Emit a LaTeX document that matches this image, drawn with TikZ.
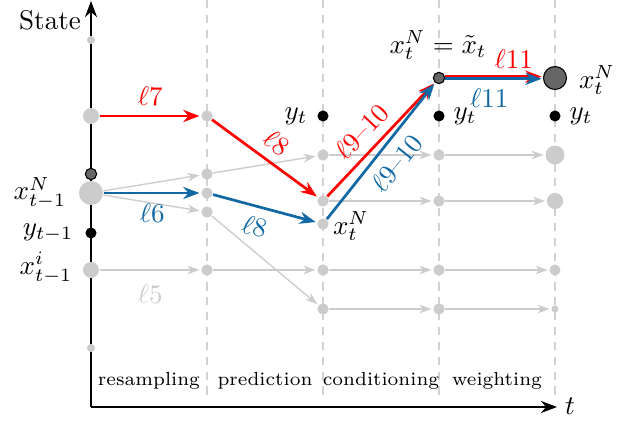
\documentclass[tikz,border=0pt]{standalone}
\usetikzlibrary{arrows.meta}
\definecolor{myblue}{RGB}{16,104,164}
\begin{document}
\begin{tikzpicture}[x=0.37pt,y=-0.37pt,
  gdot/.style={circle,fill=gray!40,inner sep=0pt,minimum size=#1},
  bdot/.style={circle,fill=black,inner sep=0pt,minimum size=4.1pt},
  ddot/.style={circle,fill=black!60,draw=black,line width=0.4pt,inner sep=0pt,minimum size=#1},
  garr/.style={gray!40,line width=0.5pt,-{Stealth[length=4.5pt,width=3.2pt]},shorten >=0.5pt},
  rarr/.style={red,line width=1pt,-{Stealth[length=6pt,width=4.5pt]},shorten >=0.5pt},
  barr/.style={myblue,line width=1pt,-{Stealth[length=6pt,width=4.5pt]},shorten >=0.5pt},
  vdash/.style={gray!35,line width=0.45pt,dash pattern=on 3pt off 2.5pt},
  phase/.style={font=\scriptsize,anchor=base}]
\useasboundingbox (0,0) rectangle (626,422);
% dashed column lines
\foreach \cx in {207,323,439,555} \draw[vdash] (\cx,0) -- (\cx,395);
% axes
\coordinate (O) at (91,407);
\coordinate (ytop) at (91,1);
\coordinate (xend) at (557,407);
\draw[line width=0.5pt,-{Stealth[length=6pt,width=4.5pt]}] (O) -- (ytop);
\draw[line width=0.5pt,-{Stealth[length=6pt,width=4.5pt]}] (O) -- (xend);
\node (tlab) at (570,406) {$t$};
\node (state) at (50,20) {State};
% column 0
\node[gdot=3pt] (a1) at (91,40) {};
\node[gdot=5.9pt] (a2) at (91,116) {};
\node[ddot=4.2pt] (a3) at (91,174) {};
\node[gdot=8.9pt] (a4) at (91,193) {};
\node[bdot] (a5) at (91,233) {};
\node[gdot=5.9pt] (a6) at (91,270) {};
\node[gdot=3pt] (a7) at (91,348) {};
\node[left=1pt] at (a4.west) {$x_{t-1}^N$};
\node (ylab0) at (48,233) {$y_{t-1}$};
\node (xilab) at (46,268) {$x_{t-1}^i$};
% column 1
\node[gdot=4.2pt] (b1) at (207,116) {};
\node[gdot=4.2pt] (b2) at (207,174) {};
\node[gdot=4.2pt] (b3) at (207,193) {};
\node[gdot=4.2pt] (b4) at (207,212) {};
\node[gdot=4.2pt] (b5) at (207,270) {};
% column 2
\node[bdot] (c0) at (323,116) {};
\node[gdot=4.2pt] (c1) at (323,155) {};
\node[gdot=4.2pt] (c2) at (323,201) {};
\node[gdot=4.2pt] (c3) at (323,224) {};
\node[gdot=4.2pt] (c4) at (323,270) {};
\node[gdot=4.2pt] (c5) at (323,309) {};
\node (yc) at (296,116) {$y_t$};
\node (xc) at (351,226) {$x_t^N$};
% column 3
\node[ddot=4.2pt] (d0) at (439,78) {};
\node[bdot] (dy) at (439,116) {};
\node[gdot=4.2pt] (d1) at (439,155) {};
\node[gdot=4.2pt] (d2) at (439,201) {};
\node[gdot=4.2pt] (d4) at (439,270) {};
\node[gdot=4.2pt] (d5) at (439,309) {};
\node (xd) at (438,45) {$x_t^N=\tilde{x}_t$};
\node (yd) at (465,116) {$y_t$};
% column 4
\node[ddot=8.5pt] (e0) at (555,78) {};
\node[bdot] (ey) at (555,116) {};
\node[gdot=7pt] (e1) at (555,155) {};
\node[gdot=6pt] (e2) at (555,201) {};
\node[gdot=4.1pt] (e4) at (555,270) {};
\node[gdot=2.6pt] (e5) at (555,309) {};
\node (xe) at (597,80) {$x_t^N$};
\node (ye) at (581,116) {$y_t$};
% gray arrows
\draw[garr] (a4) -- (b2);
\draw[garr] (a4) -- (b4);
\draw[garr] (b2) -- (c1);
\draw[garr] (b4) -- (c5);
\draw[garr] (a6) -- node[below=2pt,text=gray!40] {$\ell 5$} (b5);
\draw[garr] (b5) -- (c4);
\draw[garr] (c4) -- (d4);
\draw[garr] (d4) -- (e4);
\draw[garr] (c1) -- (d1);
\draw[garr] (d1) -- (e1);
\draw[garr] (c2) -- (d2);
\draw[garr] (d2) -- (e2);
\draw[garr] (c5) -- (d5);
\draw[garr] (d5) -- (e5);
% red path
\draw[rarr] (a2) -- node[above,text=red] {$\ell 7$} (b1);
\draw[rarr] (b1) -- node[sloped,above,pos=0.5,text=red] {$\ell 8$} (c2);
\draw[rarr] (c2) -- node[sloped,above,pos=0.45,text=red] {$\ell 9$--$10$} (d0);
% blue path
\draw[barr] (a4) -- node[below,text=myblue] {$\ell 6$} (b3);
\draw[barr] (b3) -- node[sloped,below,pos=0.45,text=myblue] {$\ell 8$} (c3);
\draw[barr] (c3) -- node[sloped,below,pos=0.5,text=myblue] {$\ell 9$--$10$} (d0);
% l11
\draw[rarr] ([yshift=0.5pt]d0.east) -- node[above,pos=0.7,text=red,yshift=-1pt] {$\ell 11$} ([yshift=0.5pt]e0.west);
\draw[barr] ([yshift=-0.3pt]d0.east) -- node[below,pos=0.45,text=myblue] {$\ell 11$} ([yshift=-0.3pt]e0.west);
% phase labels
\node[phase] (p1) at (149,386) {resampling};
\node[phase] (p2) at (265,386) {prediction};
\node[phase] (p3) at (381,386) {conditioning};
\node[phase] (p4) at (497,386) {weighting};
\end{tikzpicture}
\end{document}
